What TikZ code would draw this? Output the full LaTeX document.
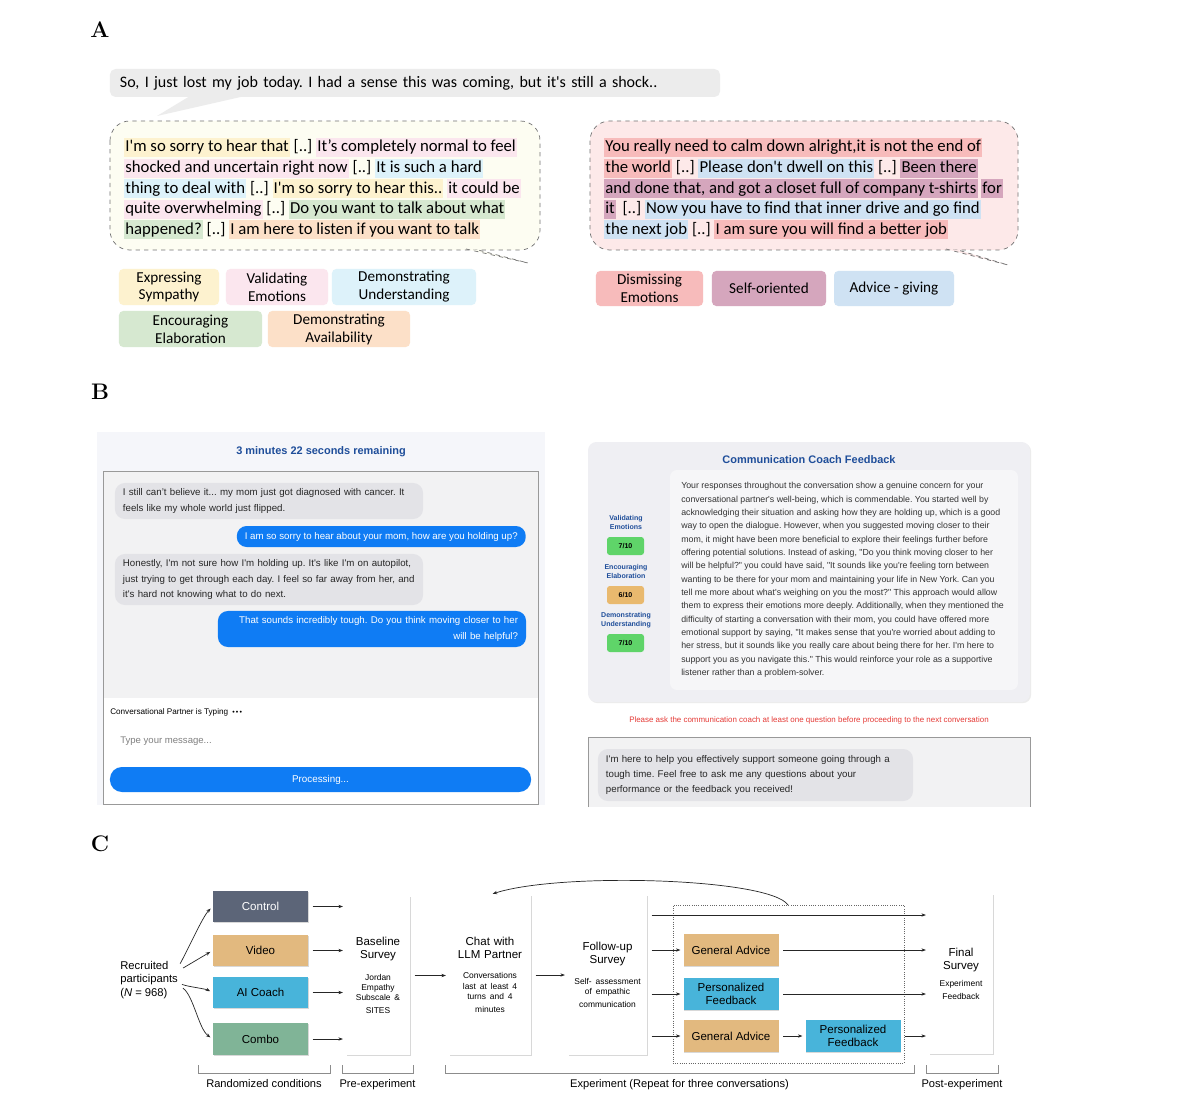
\documentclass[tikz,border=0pt]{standalone}
\usepackage{fontspec}
\usepackage{xcolor}
\usepackage{tikz}
\usetikzlibrary{arrows.meta, positioning, shadows}

\newfontfamily\calib{Carlito}
\newfontfamily\sansA{Liberation Sans}
\frenchspacing

% highlight colours (panel A)
\definecolor{symp}{HTML}{FDF2CF}
\definecolor{valid}{HTML}{FBE6EE}
\definecolor{underst}{HTML}{DDF2FA}
\definecolor{elab}{HTML}{D6E8D0}
\definecolor{avail}{HTML}{FCE0C8}
\definecolor{dism}{HTML}{F7BBBB}
\definecolor{selfo}{HTML}{D5A6BD}
\definecolor{advice}{HTML}{CFE2F3}
\definecolor{topgray}{HTML}{ECECEC}
\definecolor{leftbub}{HTML}{FDFDF2}
\definecolor{rightbub}{HTML}{FDE9E9}
% panel B
\definecolor{bgB}{HTML}{F5F6FA}
\definecolor{chatbg}{HTML}{F2F2F3}
\definecolor{graybub}{HTML}{E3E3E7}
\definecolor{bluebub}{HTML}{0F7CF4}
\definecolor{titleblue}{HTML}{1F4E9A}
\definecolor{cardbg}{HTML}{EFEFF3}
\definecolor{textbg}{HTML}{F6F6F8}
\definecolor{scgreen}{HTML}{5FD469}
\definecolor{scorange}{HTML}{E9B96E}
\definecolor{warnred}{HTML}{E53935}
% panel C
\definecolor{ctrlc}{HTML}{5C6578}
\definecolor{videoc}{HTML}{E2B97F}
\definecolor{coachc}{HTML}{48B4DA}
\definecolor{comboc}{HTML}{80B497}

\newcommand{\hstrut}{\rule[-0.25em]{0pt}{1.0em}}
\newcommand{\hlt}[2]{{\setlength{\fboxsep}{0.8pt}\colorbox{#1}{\hstrut#2}}}
\newcommand{\smalltxt}{\fontsize{6}{7.3}\selectfont}

\tikzset{
  panel/.style={font=\rmfamily\bfseries\fontsize{16}{18}\selectfont, inner sep=0pt},
  tagbox/.style={rectangle, rounded corners=3pt, minimum height=0.9cm, align=center,
                 font=\calib\fontsize{10.8}{12.8}\selectfont, inner sep=1pt},
  bubtext/.style={align=left, inner sep=0pt, font=\calib\fontsize{11.9}{14.6}\selectfont},
  dashbub/.style={draw=black!55, dashed, line width=0.5pt, rounded corners=14pt},
  gbub/.style={rectangle, fill=graybub, rounded corners=7pt, align=left, inner xsep=0.2cm,
               font=\sansA\fontsize{6.9}{10.7}\selectfont, text=black!85},
  bbub/.style={rectangle, fill=bluebub, rounded corners=7pt, align=right, inner xsep=0.2cm,
               font=\sansA\fontsize{6.9}{10.7}\selectfont, text=white},
  score/.style={rectangle, rounded corners=2pt, minimum width=0.925cm, minimum height=0.45cm,
                font=\sansA\bfseries\fontsize{5}{6}\selectfont},
  crit/.style={align=center, text=titleblue, font=\sansA\bfseries\fontsize{5}{6.4}\selectfont},
  cond/.style={rectangle, minimum width=2.375cm, minimum height=0.775cm,
               font=\sansA\fontsize{8.2}{9.5}\selectfont,
               drop shadow={opacity=0.3, shadow xshift=0.6pt, shadow yshift=-0.6pt}},
  tall/.style={rectangle, fill=white, align=center, inner sep=0pt,
               font=\sansA\fontsize{8.2}{9.3}\selectfont,
               drop shadow={opacity=0.3, shadow xshift=0.7pt, shadow yshift=-0.7pt}},
  arr/.style={-{Stealth[length=3.2pt, width=2.4pt]}, draw=black!85, line width=0.5pt,
              shorten <=3pt, shorten >=2pt},
  brk/.style={draw=black!45, line width=0.5pt},
}

\begin{document}
\begin{tikzpicture}[x=0.025cm, y=-0.025cm,
  every node/.style={text=black}]
  \useasboundingbox[fill=white] (0,0) rectangle (1200,1095);

  \node[panel] (pa) at (100,30) {A};
  \node[panel] (pb) at (100,392) {B};
  \node[panel] (pc) at (100,844) {C};

  % --- A ---
  \fill[topgray] (190,96) -- (157,116) -- (245,96) -- cycle;
  \node[rectangle, fill=topgray, rounded corners=4pt, minimum height=0.7cm, text width=14.75cm,
        inner xsep=0.25cm, align=left, font=\calib\fontsize{11.4}{13}\selectfont]
        (opening) at (415,83) {So, I just lost my job today. I had a sense this was coming, but it's still a shock..};

  \draw[dashbub, fill=leftbub] (110,121) rectangle (540,250);
  \draw[dashbub, fill=leftbub, rounded corners=0pt] (466,249) -- (528,263) -- (478,250);
  \node[bubtext, anchor=north west] (goodtxt) at (124,138) {%
    \hlt{symp}{I'm so sorry to hear that} [..] \hlt{valid}{It’s completely normal to feel}\\
    \hlt{valid}{shocked and uncertain right now} [..] \hlt{underst}{It is such a hard}\\
    \hlt{underst}{thing to deal with} [..] \hlt{symp}{I'm so sorry to hear this..} \hlt{valid}{it could be}\\
    \hlt{valid}{quite overwhelming} [..] \hlt{elab}{Do you want to talk about what}\\
    \hlt{elab}{happened?} [..] \hlt{avail}{I am here to listen if you want to talk}};

  \draw[dashbub, fill=rightbub] (590,121) rectangle (1018,250);
  \draw[dashbub, fill=rightbub, rounded corners=0pt] (946,249) -- (1008,265) -- (958,250);
  \node[bubtext, anchor=north west] (badtxt) at (604,138) {%
    \hlt{dism}{You really need to calm down alright,it is not the end of}\\
    \hlt{dism}{the world} [..] \hlt{advice}{Please don't dwell on this} [..] \hlt{selfo}{Been there}\\
    \hlt{selfo}{and done that, and got a closet full of company t-shirts} \hlt{selfo}{for}\\
    \hlt{selfo}{it} \,[..] \hlt{advice}{Now you have to find that inner drive and go find}\\
    \hlt{advice}{the next job} [..] \hlt{dism}{I am sure you will find a better job}};

  \node[tagbox, fill=symp, minimum width=2.5cm] (es) at (169,287) {Expressing\\Sympathy};
  \node[tagbox, fill=valid, minimum width=2.55cm] (ve) at (277,287) {Validating\\Emotions};
  \node[tagbox, fill=underst, minimum width=3.6cm] (du) at (404,287) {Demonstrating\\Understanding};
  \node[tagbox, fill=elab, minimum width=3.575cm] (ee) at (190.5,329) {Encouraging\\Elaboration};
  \node[tagbox, fill=avail, minimum width=3.55cm] (da) at (339,329) {Demonstrating\\Availability};
  \node[tagbox, fill=dism, minimum width=2.675cm, minimum height=0.875cm] (de) at (649.5,288.5) {Dismissing\\Emotions};
  \node[tagbox, fill=selfo, minimum width=2.85cm, minimum height=0.875cm] (so) at (769,288.5) {Self-oriented};
  \node[tagbox, fill=advice, minimum width=3cm, minimum height=0.875cm] (ag) at (894,288.5) {Advice - giving};

  % --- B: chat ---
  \fill[bgB] (97,432) rectangle (545,805);
  \node[font=\sansA\bfseries\fontsize{7.8}{9}\selectfont, text=titleblue] (timer) at (321,452) {3 minutes 22 seconds remaining};
  \draw[black!40, fill=white, line width=0.6pt] (103,471) rectangle (538,804);
  \fill[chatbg] (103.5,471.5) rectangle (537.5,698);
  \node[gbub, text width=7.3cm, minimum height=0.9cm] (m1) at (269,501)
    {I still can’t believe it... my mom just got diagnosed with cancer. It\\feels like my whole world just flipped.};
  \node[bbub, anchor=east, minimum height=0.525cm] (m2) at (526,536.5)
    {I am so sorry to hear about your mom, how are you holding up?};
  \node[gbub, text width=7.3cm, minimum height=1.275cm] (m3) at (269,579.5)
    {Honestly, I'm not sure how I'm holding up. It's like I'm on autopilot,\\just trying to get through each day. I feel so far away from her, and\\it's hard not knowing what to do next.};
  \node[bbub, text width=7.3cm, minimum height=0.9cm] (m4) at (372,629)
    {That sounds incredibly tough. Do you think moving closer to her\\will be helpful?};
  \node[anchor=west, inner sep=0pt, font=\sansA\fontsize{5.8}{7}\selectfont] (typing) at (110,712)
    {Conversational Partner is Typing {\fontsize{5}{6}\selectfont\ \textbullet\,\textbullet\,\textbullet}};
  \node[anchor=west, inner sep=0pt, text=black!50, font=\sansA\fontsize{6.8}{8}\selectfont] (input) at (120,741)
    {Type your message...};
  \node[rectangle, fill=bluebub, rounded corners=0.3cm, minimum width=10.525cm, minimum height=0.625cm,
        text=white, font=\sansA\fontsize{7}{8}\selectfont] (proc) at (320.5,779.5) {Processing...};

  % --- B: feedback ---
  \fill[cardbg, rounded corners=6pt, drop shadow={opacity=0.15, shadow xshift=0.8pt, shadow yshift=-0.8pt}]
    (588,442) rectangle (1030,702);
  \node[font=\sansA\bfseries\fontsize{7.8}{9}\selectfont, text=titleblue] (fbtitle) at (809,460) {Communication Coach Feedback};
  \fill[textbg, rounded corners=5pt] (670,470) rectangle (1018,690);
  \node[anchor=north west, align=left, inner sep=0pt, text=black!80,
        font=\sansA\fontsize{6.25}{9.5}\selectfont] (fbtext) at (681,482) {%
    Your responses throughout the conversation show a genuine concern for your\\
    conversational partner's well-being, which is commendable. You started well by\\
    acknowledging their situation and asking how they are holding up, which is a good\\
    way to open the dialogue. However, when you suggested moving closer to their\\
    mom, it might have been more beneficial to explore their feelings further before\\
    offering potential solutions. Instead of asking, "Do you think moving closer to her\\
    will be helpful?" you could have said, "It sounds like you're feeling torn between\\
    wanting to be there for your mom and maintaining your life in New York. Can you\\
    tell me more about what's weighing on you the most?" This approach would allow\\
    them to express their emotions more deeply. Additionally, when they mentioned the\\
    difficulty of starting a conversation with their mom, you could have offered more\\
    emotional support by saying, "It makes sense that you're worried about adding to\\
    her stress, but it sounds like you really care about being there for her. I'm here to\\
    support you as you navigate this." This would reinforce your role as a supportive\\
    listener rather than a problem-solver.};
  \node[crit] (c1) at (626,522) {Validating\\Emotions};
  \node[score, fill=scgreen] (s1) at (625.5,546) {7/10};
  \node[crit] (c2) at (626,571) {Encouraging\\Elaboration};
  \node[score, fill=scorange] (s2) at (625.5,595) {6/10};
  \node[crit] (c3) at (626,620) {Demonstrating\\Understanding};
  \node[score, fill=scgreen] (s3) at (625.5,643) {7/10};
  \node[text=warnred, font=\sansA\fontsize{5.65}{7}\selectfont] (warn) at (809,720)
    {Please ask the communication coach at least one question before proceeding to the next conversation};
  \fill[chatbg] (588,737) rectangle (1030,807);
  \draw[black!40, line width=0.6pt] (588,807) -- (588,737) -- (1030,737) -- (1030,807);
  \node[gbub, text width=7.475cm, minimum height=1.3cm] (coachmsg) at (755.5,775)
    {I'm here to help you effectively support someone going through a\\tough time. Feel free to ask me any questions about your\\performance or the feedback you received!};

  % --- C ---
  \node[anchor=west, align=left, inner sep=0pt, font=\sansA\fontsize{8}{9.6}\selectfont] (rec) at (120,980)
    {Recruited\\participants\\(\textit{N} = 968)};
  \node[cond, fill=ctrlc, text=white] (ctrl) at (260.5,906.5) {Control};
  \node[cond, fill=videoc] (video) at (260.5,950.5) {Video};
  \node[cond, fill=coachc] (aic) at (260.5,992.5) {AI Coach};
  \node[cond, fill=comboc, minimum height=0.8cm] (combo) at (260.5,1039) {Combo};

  \draw[arr] ([shift={(0pt,9pt)}]rec.east) .. controls +(10,-18) and +(-10,10) .. (ctrl.west);
  \draw[arr] ([shift={(1pt,7pt)}]rec.east) -- (video.west);
  \draw[arr] ([shift={(0pt,-2pt)}]rec.east) .. controls +(10,4) and +(-8,-4) .. (aic.west);
  \draw[arr] ([shift={(1pt,-4pt)}]rec.east) .. controls +(14,10) and +(-14,-10) .. (combo.west);

  \node[tall, minimum width=1.6cm, minimum height=3.975cm, text width=1.6cm] (base) at (378,975.5)
    {Baseline\\Survey\par\vspace{8pt}\smalltxt Jordan\\Empathy\\Subscale \&\\SITES};
  \node[tall, minimum width=2.05cm, minimum height=4cm, text width=2.05cm] (chat) at (490,975)
    {Chat with\\LLM Partner\par\vspace{7pt}\smalltxt Conversations\\last at least 4\\turns and 4\\minutes};
  \node[tall, minimum width=1.975cm, minimum height=4cm, text width=1.975cm] (fu) at (607.5,975)
    {Follow-up\\Survey\par\vspace{7pt}\smalltxt Self- assessment\\of empathic\\communication};
  \node[tall, minimum width=1.6cm, minimum height=3.975cm, text width=1.6cm] (fin) at (961,974)
    {Final\\Survey\par\vspace{5pt}\smalltxt Experiment\\Feedback};

  \foreach \c in {ctrl, video, aic, combo}
    \draw[arr] (\c.east) -- (\c.east -| base.west);
  \draw[arr] (base.east) -- (base.east -| chat.west);
  \draw[arr] (chat.east) -- (chat.east -| fu.west);

  \node[draw=black!60, densely dotted, line width=0.6pt, minimum width=5.775cm, minimum height=3.95cm]
    (grp) at (788.5,984) {};
  \node[cond, fill=videoc, minimum height=0.8cm] (ga1) at (731,950) {General Advice};
  \node[cond, fill=coachc, minimum height=0.8cm, align=center] (pf1) at (731,994) {Personalized\\Feedback};
  \node[cond, fill=videoc, minimum height=0.8cm] (ga2) at (731,1036) {General Advice};
  \node[cond, fill=coachc, minimum height=0.8cm, align=center] (pf2) at (853,1036) {Personalized\\Feedback};

  \coordinate (ytop) at (0,915);
  \draw[arr] (fu.east |- ytop) -- (fin.west |- ytop);
  \draw[arr] (fu.east |- ga1) -- (ga1.west);
  \draw[arr] (fu.east |- pf1) -- (pf1.west);
  \draw[arr] (fu.east |- ga2) -- (ga2.west);
  \draw[arr] (ga1.east) -- (ga1.east -| fin.west);
  \draw[arr] (pf1.east) -- (pf1.east -| fin.west);
  \draw[arr] (ga2.east) -- (pf2.west);
  \draw[arr] (pf2.east) -- (pf2.east -| fin.west);

  \coordinate (lp) at (788,905);
  \draw[arr, shorten <=0pt] (lp) .. controls (770,878) and (560,872) .. (chat.north);

  \draw[brk] (198,1065) -- (198,1073) -- node[below=1pt, font=\sansA\fontsize{7.9}{9}\selectfont] (lrand) {Randomized conditions} (330,1073) -- (330,1065);
  \draw[brk] (342,1065) -- (342,1073) -- node[below=1pt, font=\sansA\fontsize{7.9}{9}\selectfont] (lpre) {Pre-experiment} (413,1073) -- (413,1065);
  \draw[brk] (445,1065) -- (445,1073) -- node[below=1pt, font=\sansA\fontsize{7.9}{9}\selectfont] (lexp) {Experiment (Repeat for three conversations)} (914,1073) -- (914,1065);
  \draw[brk] (926,1065) -- (926,1073) -- node[below=1pt, font=\sansA\fontsize{7.9}{9}\selectfont] (lpost) {Post-experiment} (998,1073) -- (998,1065);
\end{tikzpicture}
\end{document}
